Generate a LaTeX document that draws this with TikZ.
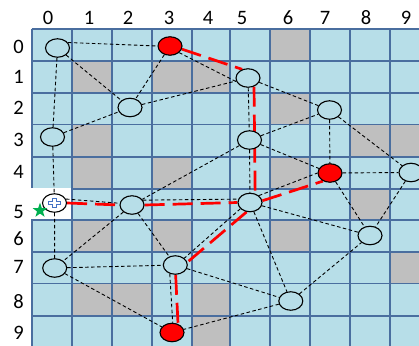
\documentclass[tikz,border=0pt]{standalone}
\usepackage{fontspec}
\setmainfont{Carlito}
\usetikzlibrary{shapes.geometric}
\definecolor{cellblue}{HTML}{B7DEE8}
\definecolor{gridblue}{HTML}{4A6E9F}
\definecolor{cellgrey}{HTML}{BFBFBF}
\definecolor{pathred}{HTML}{FF0000}
\definecolor{stargreen}{HTML}{00B050}
\definecolor{plusblue}{HTML}{4472C4}
\begin{document}
\begin{tikzpicture}[x=1pt,y=-1pt,
  vnode/.style={ellipse, draw=black, line width=1.1pt, fill=cellblue, minimum width=24pt, minimum height=18.5pt, inner sep=0pt},
  goalnode/.style={vnode, fill=pathred},
  startnode/.style={vnode, fill=white},
  edge/.style={draw=black, line width=0.9pt, dash pattern=on 3.5pt off 2.5pt},
  route/.style={draw=pathred, line width=2.7pt, dash pattern=on 20pt off 8pt},
  gridline/.style={draw=gridblue, line width=1.6pt},
  lbl/.style={inner sep=0pt, font=\fontsize{20.5}{24}\selectfont},
]
\useasboundingbox (0,0) rectangle (419,345);
\clip (0,0) rectangle (419,345);
\fill[white] (0,0) rectangle (419,345);
\def\colx{{31.7,71.7,111.7,151.7,191.7,230,270,310,350,390,430}}
\def\rowy{{29.3,61,92.7,124.3,156.7,189,220,251.7,283.3,315.7,347.3}}
% cells
\fill[cellblue] (31.7,29.3) rectangle (440,360);
\foreach \c/\r in {6/0,1/1,3/1,4/1,6/2,1/3,8/3,9/3,1/4,3/4,6/4,8/5,1/6,3/6,6/6,9/7,1/8,2/8,4/8,4/9} {
  \pgfmathsetmacro\xa{\colx[\c]}
  \pgfmathsetmacro\xb{\colx[\c+1]}
  \pgfmathsetmacro\ya{\rowy[\r]}
  \pgfmathsetmacro\yb{\rowy[\r+1]}
  \fill[cellgrey] (\xa,\ya) rectangle (\xb,\yb);
}
% grid
\foreach \x in {31.7,71.7,111.7,151.7,191.7,230,270,310,350,390,430}
  \draw[gridline] (\x,29.3) -- (\x,360);
\foreach \y in {29.3,61,92.7,124.3,156.7,189,220,251.7,283.3,315.7,347.3}
  \draw[gridline] (31.7,\y) -- (440,\y);
% start cell (white, covers its left and top borders)
\fill[white] (30,187.6) rectangle (70.9,219.2);
% labels
\foreach \i/\x in {0/48,1/89,2/128,3/169,4/208,5/242,6/288,7/325,8/366,9/406}
  \node[lbl] (col\i) at (\x,18) {\i};
\foreach \i/\y in {0/46.7,1/77,2/107.7,3/140,4/172,5/211.7,6/238.3,7/266.7,8/301.7,9/333.3}
  \node[lbl] (row\i) at (18.5,\y) {\i};
% node positions
\coordinate (pA) at (57.5,48);
\coordinate (pB) at (170,46);
\coordinate (pC) at (248,78);
\coordinate (pD) at (130,107.5);
\coordinate (pE) at (329.5,110);
\coordinate (pF) at (52.5,137);
\coordinate (pG) at (249.5,140);
\coordinate (pH) at (330,173);
\coordinate (pI) at (411,172.5);
\coordinate (pJ) at (54.5,203);
\coordinate (pK) at (132,205);
\coordinate (pL) at (250,202.5);
\coordinate (pM) at (370,235.5);
\coordinate (pN) at (54.7,268);
\coordinate (pO) at (175.3,265);
\coordinate (pP) at (290.8,301);
\coordinate (pQ) at (172,332.5);
% nodes (placed first, drawn again on top later)
\path
  node[vnode, draw=none, fill=none] (A) at (pA) {}
  node[vnode, draw=none, fill=none] (B) at (pB) {}
  node[vnode, draw=none, fill=none] (C) at (pC) {}
  node[vnode, draw=none, fill=none] (D) at (pD) {}
  node[vnode, draw=none, fill=none] (E) at (pE) {}
  node[vnode, draw=none, fill=none] (F) at (pF) {}
  node[vnode, draw=none, fill=none] (G) at (pG) {}
  node[vnode, draw=none, fill=none] (H) at (pH) {}
  node[vnode, draw=none, fill=none] (I) at (pI) {}
  node[vnode, draw=none, fill=none] (J) at (pJ) {}
  node[vnode, draw=none, fill=none] (K) at (pK) {}
  node[vnode, draw=none, fill=none] (L) at (pL) {}
  node[vnode, draw=none, fill=none] (M) at (pM) {}
  node[vnode, draw=none, fill=none] (N) at (pN) {}
  node[vnode, draw=none, fill=none] (O) at (pO) {}
  node[vnode, draw=none, fill=none] (P) at (pP) {}
  node[vnode, draw=none, fill=none] (Q) at (pQ) {};
% black dashed edges
\draw[edge] (A.28) -- (B.west);
\draw[edge] (A) -- (D);
\draw[edge] (A) -- (F);
\draw[edge] (B) -- (D);
\draw[edge] (B.-36) -- (C.198);
\draw[edge] (D) -- (C);
\draw[edge] (F) -- (D);
\draw[edge] (F) -- (J);
\draw[edge] (C) -- (G);
\draw[edge] (C) -- (E);
\draw[edge] (G) -- (E);
\draw[edge] (G) -- (L);
\draw[edge] (G) -- (H);
\draw[edge] (G) -- (K);
\draw[edge] (E) -- (H);
\draw[edge] (E) -- (I);
\draw[edge] (H) -- (I);
\draw[edge] (L.38) -- (H.west);
\draw[edge] (H) -- (M);
\draw[edge] (I) -- (M);
\draw[edge] (J.19) -- (K.172);
\draw[edge] (J) -- (N);
\draw[edge] (K.24) -- (L.164);
\draw[edge] (K) -- (N);
\draw[edge] (K) -- (O);
\draw[edge] (L) -- (M);
\draw[edge] (L) -- (P);
\draw[edge] (L.213) -- (O.37);
\draw[edge] (N) -- (O);
\draw[edge] (N) -- (Q);
\draw[edge] (O.-122) -- (Q.86);
\draw[edge] (O) -- (P);
\draw[edge] (P) -- (Q);
\draw[edge] (P) -- (M);
% red route
\draw[route] (B.-15) -- (C.124);
\draw[route] (C.-55) -- (L.60);
\draw[route] (J.east) -- (K.west);
\draw[route] (K.east) -- (L.west);
\draw[route] (L.8) -- (H.-131);
\draw[route] (L.250) -- (O.13);
\draw[route] (O.-88) -- (Q.55);
% visible nodes
\foreach \n in {A,C,D,E,F,G,I,K,L,M,N,O,P}
  \node[vnode] at (p\n) {};
\foreach \n in {B,H,Q}
  \node[goalnode] at (p\n) {};
\node[startnode] at (pJ) {};
\draw[plusblue, line width=0.8pt, fill=white, shift={(pJ)}]
  (-6,-1.7) -- (-2,-1.7) -- (-2,-4.5) -- (2,-4.5) -- (2,-1.7) -- (6,-1.7)
  -- (6,1.7) -- (2,1.7) -- (2,4.5) -- (-2,4.5) -- (-2,1.7) -- (-6,1.7) -- cycle;
\node[star, star points=5, star point ratio=2.5, fill=stargreen, minimum size=15.5pt, inner sep=0pt] (st) at (40,210.5) {};
\end{tikzpicture}
\end{document}
